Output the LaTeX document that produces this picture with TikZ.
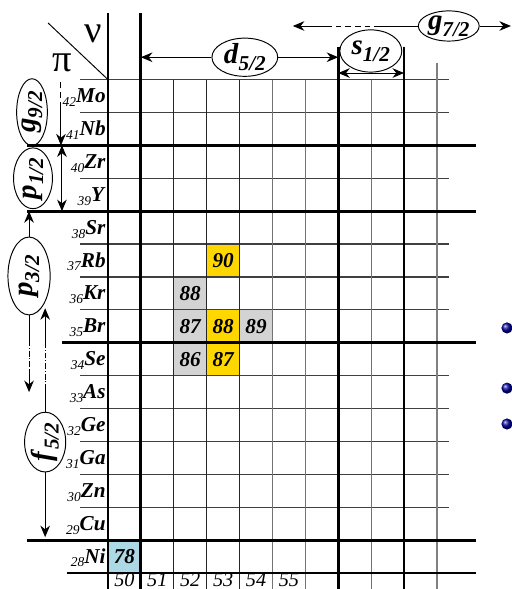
\documentclass[tikz,border=0pt]{standalone}
\usepackage{fontspec}
\setmainfont{Liberation Serif}
\usetikzlibrary{arrows.meta,shapes.geometric}
\definecolor{cellblue}{RGB}{173,216,230}
\definecolor{cellgray}{RGB}{211,211,211}
\definecolor{cellgold}{RGB}{255,215,0}
\newcommand{\elemlabel}[2]{\raisebox{-2pt}{\fontsize{7}{7}\selectfont\itshape #1}\textbf{\itshape #2}}
\newcommand{\shellname}[2]{\textbf{\itshape #1}\raisebox{-3.5pt}{\fontsize{11}{11}\selectfont\bfseries\itshape #2}}
\begin{document}
\begin{tikzpicture}[x=0.6cm,y=0.6cm,
    >={Stealth[length=6pt,width=5pt]},
    thickline/.style={line width=1.5pt},
    thinline/.style={line width=0.6pt,black!75},
    cell/.style={minimum size=0.6cm,inner sep=0pt,font=\fontsize{11}{11}\selectfont\bfseries\itshape},
    shell/.style={draw,ellipse,inner sep=0pt,line width=0.5pt,font=\fontsize{15}{15}\selectfont},
    conn/.style={line width=0.5pt}]
    \useasboundingbox (-3.283,-0.486) rectangle (12.28,17.42);

    % coloured cells
    \node[cell,fill=cellblue] (ni78) at (0.5,0.5) {78};
    \node[cell,fill=cellgold] (rb90) at (3.5,9.5) {90};
    \node[cell,fill=cellgray] (kr88) at (2.5,8.5) {88};
    \node[cell,fill=cellgray] (br87) at (2.5,7.5) {87};
    \node[cell,fill=cellgold] (br88) at (3.5,7.5) {88};
    \node[cell,fill=cellgray] (br89) at (4.5,7.5) {89};
    \node[cell,fill=cellgray] (se86) at (2.5,6.5) {86};
    \node[cell,fill=cellgold] (se87) at (3.5,6.5) {87};

    % grid
    \foreach \y in {2,3,4,5,6,8,9,10,12,14,15}
        \draw[thinline] (-0.85,\y) -- (10.36,\y);
    \foreach \x/\c in {2/black!85,3/black!85,4/black!85,5/black!55,6/black!55,8/black!55}
        \draw[thinline,color=\c] (\x,15) -- (\x,-0.49);
    \draw[thinline,color=black!50] (10,15.5) -- (10,-0.49);
    \foreach \y/\s in {13/-2.46,11/-2.46,7/-1.40,1/-2.46,0/-1.25}
        \draw[thickline] (\s,\y) -- (11.2,\y);
    \draw[thickline] (0,17.02) -- (0,-0.49);
    \draw[thickline] (1,17.02) -- (1,-0.49);
    \draw[thickline] (7,16) -- (7,-0.49);
    \draw[thickline] (9,16) -- (9,-0.49);

    % corner
    \draw[conn] (-1.82,16.72) -- (0,15);
    \node[font=\fontsize{20}{20}\selectfont] (nu) at (-0.46,16.4) {ν};
    \node[font=\fontsize{20}{20}\selectfont] (pi) at (-1.40,15.5) {π};

    % elements and neutron numbers
    \foreach \z/\e [count=\k from 0] in {28/Ni,29/Cu,30/Zn,31/Ga,32/Ge,33/As,34/Se,35/Br,36/Kr,37/Rb,38/Sr,39/Y,40/Zr,41/Nb,42/Mo}
        \node[anchor=base east,inner sep=0pt,font=\fontsize{11}{11}\selectfont] (el\z) at (-0.06,\k+0.3) {\elemlabel{\z}{\e}};
    \foreach \n [count=\k from 0] in {50,...,55}
        \node[anchor=base,inner sep=0pt,font=\fontsize{10.5}{10.5}\selectfont\itshape] (n\n) at (\k+0.5,-0.40) {\n};

    % neutron shells
    \node[shell,minimum width=1.2cm,minimum height=0.64cm] (d52) at (4.16,15.68) {\shellname{d}{5/2}};
    \coordinate (d52l) at (1,15.68);
    \coordinate (d52r) at (7,15.68);
    \draw[->,conn] (d52) -- (d52l);
    \draw[->,conn] (d52) -- (d52r);
    \node[shell,minimum width=1.13cm,minimum height=0.77cm] (s12) at (7.99,15.87) {\shellname{s}{1/2}};
    \coordinate (s12l) at (7,15.2);
    \coordinate (s12r) at (9,15.2);
    \draw[<->,conn] (s12l) -- (s12r);
    \node[shell,minimum width=1.11cm,minimum height=0.55cm] (g72) at (10.36,16.63) {\shellname{g}{7/2}};
    \coordinate (g72a) at (8.27,16.63);
    \coordinate (g72b) at (6.75,16.63);
    \coordinate (g72l) at (5.62,16.63);
    \coordinate (g72r) at (12.25,16.63);
    \draw[conn] (g72) -- (g72a);
    \draw[conn,densely dashed] (g72a) -- (g72b);
    \draw[->,conn] (g72b) -- (g72l);
    \draw[->,conn] (g72) -- (g72r);

    % proton shells
    \node[shell,rotate=90,minimum width=1.22cm,minimum height=0.56cm] (g92) at (-2.31,14.01) {\shellname{g}{9/2}};
    \coordinate (g92a) at (-1.43,14.92);
    \coordinate (g92b) at (-1.43,14.29);
    \coordinate (g92c) at (-1.43,13);
    \draw[conn,densely dashed] (g92a) -- (g92b);
    \draw[->,conn] (g92b) -- (g92c);
    \node[shell,rotate=90,minimum width=1.11cm,minimum height=0.71cm] (p12) at (-2.28,12.0) {\shellname{p}{1/2}};
    \coordinate (p12t) at (-1.40,13);
    \coordinate (p12b) at (-1.40,11);
    \draw[<->,conn] (p12t) -- (p12b);
    \node[shell,rotate=90,minimum width=1.42cm,minimum height=0.77cm] (p32) at (-2.40,9.03) {\shellname{p}{3/2}};
    \coordinate (p32t) at (-2.40,11);
    \coordinate (p32a) at (-2.40,7.08);
    \coordinate (p32b) at (-2.40,6.17);
    \coordinate (p32c) at (-2.40,5.5);
    \draw[->,conn] (p32) -- (p32t);
    \draw[conn] (p32) -- (p32a);
    \draw[conn,densely dashdotted] (p32a) -- (p32b);
    \draw[->,conn] (p32b) -- (p32c);
    \node[shell,rotate=90,minimum width=1.09cm,minimum height=0.75cm] (f52) at (-1.91,3.98) {\shellname{f}{5/2}};
    \coordinate (f52a) at (-1.91,5.56);
    \coordinate (f52b) at (-1.91,6.93);
    \coordinate (f52t) at (-1.91,8.05);
    \coordinate (f52d) at (-1.91,1.09);
    \draw[conn] (f52) -- (f52a);
    \draw[conn,densely dashdotted] (f52a) -- (f52b);
    \draw[->,conn] (f52b) -- (f52t);
    \draw[->,conn] (f52) -- (f52d);

    % dots
    \shade[ball color=blue!60!black] (12.13,7.45) circle (0.17);
    \shade[ball color=blue!60!black] (12.13,5.62) circle (0.17);
    \shade[ball color=blue!60!black] (12.13,4.53) circle (0.17);
\end{tikzpicture}
\end{document}
